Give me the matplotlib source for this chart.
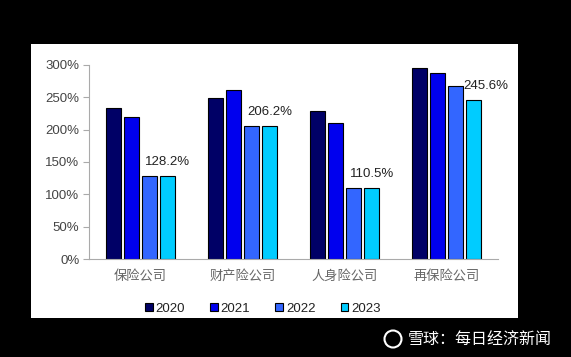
import matplotlib
matplotlib.use("Agg")
import matplotlib.pyplot as plt
from matplotlib.patches import Ellipse
import numpy as np

plt.rcParams['font.family'] = ['Liberation Sans', 'Noto Sans CJK SC', 'DejaVu Sans']

categories = ['保险公司', '财产险公司', '人身险公司', '再保险公司']
years = ['2020', '2021', '2022', '2023']
values = {
    '2020': [234.0, 248.5, 229.0, 295.0],
    '2021': [219.0, 261.0, 211.0, 288.0],
    '2022': [128.2, 206.2, 110.5, 268.0],
    '2023': [128.2, 206.2, 110.5, 245.6],
}
labels_2023 = ['128.2%', '206.2%', '110.5%', '245.6%']
colors = ['#000066', '#0000ee', '#3366ff', '#00ccff']

fig = plt.figure(figsize=(5.71, 3.57), dpi=100)
fig.patch.set_facecolor('black')

# white panel behind the chart
bg = fig.add_axes([31 / 571, 1 - 318 / 357, (518 - 31) / 571, (318 - 44) / 357])
bg.set_facecolor('white')
bg.set_xticks([])
bg.set_yticks([])
for s in bg.spines.values():
    s.set_visible(False)

ax = fig.add_axes([89 / 571, 1 - 259 / 357, (498 - 89) / 571, 194 / 357])
ax.set_facecolor('none')

x = np.arange(len(categories))
width = 0.148
pitch = 0.176
for i, yr in enumerate(years):
    ax.bar(x + (i - 1.5) * pitch, values[yr], width, color=colors[i],
           edgecolor='black', linewidth=0.8, label=yr)

# data labels on the 2023 bars
offsets = [0, 0, 0, 0.12]
for i, lab in enumerate(labels_2023):
    ax.text(x[i] + 1.5 * pitch + offsets[i], values['2023'][i] + 12, lab,
            ha='center', va='bottom', fontsize=9.5, color='#222222')

ax.set_xlim(-0.5, 3.5)
ax.set_ylim(0, 300)
ax.set_yticks(range(0, 301, 50))
ax.set_yticklabels([f'{v}%' for v in range(0, 301, 50)], fontsize=9.5, color='#444444')
ax.set_xticks(x)
ax.set_xticklabels(categories, fontsize=9.5, color='#666666', family=['Noto Sans CJK SC'])
ax.tick_params(axis='x', length=0, pad=8)
ax.tick_params(axis='y', length=4, color='#aaaaaa', pad=3)
for s in ['top', 'right']:
    ax.spines[s].set_visible(False)
ax.spines['left'].set_color('#aaaaaa')
ax.spines['bottom'].set_color('#aaaaaa')

leg = ax.legend(loc='upper center', bbox_to_anchor=(0.425, -0.165), ncol=4, frameon=False,
                fontsize=9.5, handlelength=0.6, handleheight=0.6, handletextpad=0.2,
                columnspacing=1.9)
for t in leg.get_texts():
    t.set_color('#222222')

# watermark
fig.patches.append(Ellipse((393 / 571, 1 - 339 / 357), 17 / 571, 17 / 357, transform=fig.transFigure,
                           facecolor='none', edgecolor='white', linewidth=1.5))
fig.text(552 / 571, 1 - 339 / 357, '雪球：每日经济新闻', color='white', fontsize=11.5,
         ha='right', va='center', family=['Noto Sans CJK SC'])

fig.savefig('out.png', dpi=100, facecolor='black')
